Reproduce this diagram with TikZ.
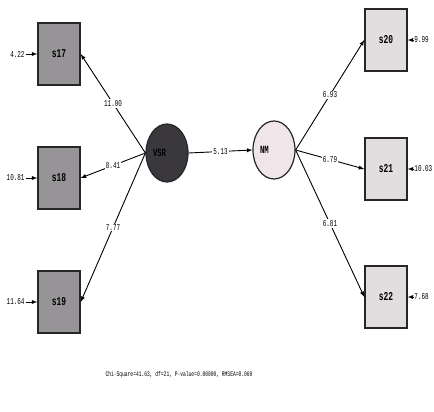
\documentclass[tikz,border=0pt]{standalone}
\usepackage{fontspec}
\usepackage{tikz}
\usetikzlibrary{shapes.geometric}
\newfontfamily\lisrel[FakeStretch=0.66]{Liberation Mono}
\definecolor{obsleft}{RGB}{150,148,150}
\definecolor{obsright}{RGB}{226,221,223}
\definecolor{latdark}{RGB}{58,56,60}
\definecolor{latlight}{RGB}{240,229,233}

\begin{document}
\begin{tikzpicture}[x=1pt, y=-1pt,
			>=latex,
			line width=0.9pt,
			obs/.style={
				rectangle,
				draw=black!85,
				line width=1.4pt,
				minimum width=42pt,
				minimum height=62pt,
				font=\lisrel\bfseries\fontsize{12}{12}\selectfont},
			lat/.style={
				ellipse,
				draw=black!85,
				line width=1.2pt,
				minimum width=42pt,
				minimum height=58pt,
				inner sep=0pt,
				font=\lisrel\bfseries\fontsize{11}{11}\selectfont},
			est/.style={
				rectangle,
				inner sep=1pt,
				fill=white,
				font=\lisrel\fontsize{9}{9}\selectfont},
			err/.style={
				inner sep=1pt,
				font=\lisrel\fontsize{9}{9}\selectfont}]
			\useasboundingbox (0, 0) rectangle (434, 412);
			% latent variables
			\node (vsr) at (167, 153) [lat, fill=latdark] {\makebox[28pt][l]{VSR}};
			\node (nm) at (274, 150) [lat, fill=latlight] {\makebox[28pt][l]{NM}};
			\draw[->] (vsr.east) -- node[est] {5.13} (nm.west);
			% left indicators
			\foreach \n/\y/\e/\l in {17/54/4.22/11.00, 18/178/10.81/8.41, 19/302/11.64/7.77}
			{
				\node (s\n) at (59, \y) [obs, fill=obsleft] {s\n};
				\node (e\n) at (26, \y) [err, anchor=east] {\e};
				\draw[->] (e\n) -- (s\n.west);
				\draw[->] (vsr.west) -- node[est] {\l} (s\n.east);
			}
			% right indicators
			\foreach \n/\y/\e/\l in {20/40/9.99/6.93, 21/169/10.03/6.79, 22/297/7.68/6.81}
			{
				\node (s\n) at (386, \y) [obs, fill=obsright] {s\n};
				\node (e\n) at (413, \y) [err, anchor=west] {\e};
				\draw[->] (e\n) -- (s\n.east);
				\draw[->] (nm.east) -- node[est] {\l} (s\n.west);
			}
			\node (fit) at (179, 375) [font=\lisrel\fontsize{7}{7}\selectfont]
				{Chi-Square=41.63, df=21, P-value=0.00000, RMSEA=0.069};
			\end{tikzpicture}
\end{document}
